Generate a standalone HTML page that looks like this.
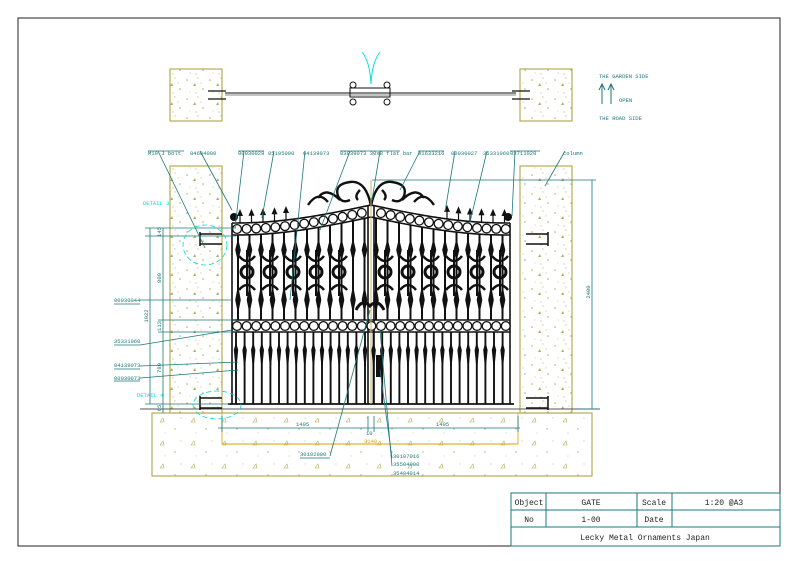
<!DOCTYPE html>
<html><head><meta charset="utf-8">
<style>
html,body{margin:0;padding:0;background:#fff;}
svg{display:block;}
text{font-family:"Liberation Mono",monospace;}
</style></head>
<body>
<svg id="s" width="794" height="561" viewBox="0 0 794 561" xmlns="http://www.w3.org/2000/svg">
<defs>
<pattern id="sand" width="23" height="19" patternUnits="userSpaceOnUse">
<rect width="23" height="19" fill="#fff"/>
<circle cx="3" cy="4" r="0.8" fill="#b5ad55"/><circle cx="14" cy="2" r="0.6" fill="#c2ba66"/>
<path d="M9 10 l2 -3 l1 3z" fill="#b5ad55"/><circle cx="19" cy="13" r="0.8" fill="#b5ad55"/>
<circle cx="6" cy="16" r="0.5" fill="#c2ba66"/><circle cx="17" cy="7" r="0.5" fill="#b5ad55"/>
<circle cx="12" cy="17" r="0.6" fill="#c2ba66"/>
</pattern>
<pattern id="sand2" width="31" height="23" patternUnits="userSpaceOnUse">
<rect width="31" height="23" fill="#fff"/>
<path d="M5 8 l3 -4 l1 4z" fill="none" stroke="#b5ad55" stroke-width="0.6"/>
<circle cx="20" cy="15" r="0.7" fill="#b5ad55"/><circle cx="26" cy="4" r="0.5" fill="#b5ad55"/>
<circle cx="10" cy="19" r="0.5" fill="#c2ba66"/>
</pattern>
</defs>
<rect x="18" y="18" width="762" height="528" fill="none" stroke="#222" stroke-width="1"/>
<g stroke="#1e7878" fill="none" stroke-width="1">
<rect x="511" y="493" width="269" height="53"/>
<line x1="511" y1="510" x2="780" y2="510"/><line x1="511" y1="527" x2="780" y2="527"/>
<line x1="546" y1="493" x2="546" y2="527"/><line x1="637" y1="493" x2="637" y2="527"/><line x1="672" y1="493" x2="672" y2="527"/>
</g>
<g font-size="8" fill="#222" text-anchor="middle">
<text x="529" y="505">Object</text><text x="591" y="505">GATE</text><text x="654" y="505">Scale</text><text x="724" y="505">1:20 @A3</text>
<text x="529" y="522">No</text><text x="591" y="522">1-00</text><text x="654" y="522">Date</text>
<text x="645" y="540">Lecky Metal Ornaments Japan</text>
</g>
<rect x="170" y="69" width="52" height="52" fill="url(#sand)" stroke="#b5ad55" stroke-width="1.2"/>
<rect x="520" y="69" width="52" height="52" fill="url(#sand)" stroke="#b5ad55" stroke-width="1.2"/>
<g stroke="#111" fill="none">
<line x1="225" y1="93" x2="516" y2="93" stroke-width="1"/><line x1="225" y1="95" x2="516" y2="95" stroke-width="0.6"/>
<path d="M208 91h18M208 99h18M512 91h18M512 99h18" stroke-width="1.2"/>
<rect x="350" y="88" width="40" height="9" stroke-width="1"/>
<circle cx="353" cy="85" r="3"/><circle cx="387" cy="85" r="3"/><circle cx="353" cy="102" r="3"/><circle cx="387" cy="102" r="3"/>
</g>
<path d="M371 84 Q370 62 362 52 M371 84 Q372 62 380 52" stroke="#00e0e0" fill="none"/>
<g fill="#1e7878" font-size="5.5">
<text x="599" y="78">THE GARDEN SIDE</text><text x="619" y="102">OPEN</text><text x="599" y="120">THE ROAD SIDE</text>
</g>
<path d="M602 104V84M599 90l3-6 3 6M611 104V84M608 90l3-6 3 6" stroke="#1e7878" fill="none"/>
<rect x="152" y="413" width="440" height="63" fill="url(#sand2)" stroke="#b5ad55" stroke-width="1.2"/>
<rect x="170" y="166" width="52" height="247" fill="url(#sand)" stroke="#b5ad55" stroke-width="1.2"/>
<rect x="520" y="166" width="52" height="247" fill="url(#sand)" stroke="#b5ad55" stroke-width="1.2"/>
<line x1="140" y1="409" x2="600" y2="409" stroke="#555" stroke-width="1"/>
<line x1="222" y1="444" x2="518" y2="444" stroke="#e0b030" stroke-width="1.2"/>
<line x1="222" y1="413" x2="222" y2="444" stroke="#e0b030"/>
<line x1="518" y1="413" x2="518" y2="444" stroke="#e0b030"/>
<g id="gate"></g>
<g id="dims" stroke="#1e7878" fill="none" stroke-width="0.8"></g>
<g fill="#1e7878" font-size="5.5" id="lbl">
<text x="148" y="155">M10 J bolt</text><text x="190" y="155">84604000</text>
<text x="238" y="155">00030029</text><text x="268" y="155">05105000</text><text x="303" y="155">04139073</text>
<text x="340" y="155">03839073 30x8 flat bar</text><text x="418" y="155">01633216</text><text x="451" y="155">00030027</text>
<text x="483" y="155">35331060</text><text x="510" y="155">03711020</text><text x="563" y="155">column</text>
<text x="114" y="302">00030044</text><text x="114" y="343">35331060</text><text x="114" y="367">04139073</text><text x="114" y="380">00030073</text>
<text x="300" y="456">30102000</text><text x="393" y="458">30107016</text><text x="393" y="466">35504000</text><text x="393" y="475">35404014</text>
<text x="296" y="426">1495</text><text x="436" y="426">1495</text><text x="366" y="435">10</text>
<text x="364" y="443" fill="#e0a020">3140</text>
</g>
<g fill="#00d8d8" font-size="5.5"><text x="143" y="205">DETAIL 3</text><text x="137" y="397">DETAIL 4</text></g>
<ellipse cx="205" cy="245" rx="22" ry="20" fill="none" stroke="#00d8d8" stroke-dasharray="5 3" stroke-width="0.8"/>
<ellipse cx="217" cy="405" rx="24" ry="14" fill="none" stroke="#00d8d8" stroke-dasharray="5 3" stroke-width="0.8"/>
</svg>
<script>
var NS="http://www.w3.org/2000/svg";
function el(p,t,a){var e=document.createElementNS(NS,t);for(var k in a)e.setAttribute(k,a[k]);p.appendChild(e);return e;}
var g=document.getElementById('gate'),d=document.getElementById('dims');
function band(x){var c=Math.abs(x-371);var t=Math.min(c/135,1);return 211+18*Math.sin(t*Math.PI/2);}
[232,368,374,510].forEach(function(x){el(g,'line',{x1:x,y1:band(x)-6,x2:x,y2:404,stroke:'#111','stroke-width':1.6});});
el(g,'line',{x1:228,y1:404,x2:514,y2:404,stroke:'#111','stroke-width':1.8});
var p1='',p2='';
for(var x=232;x<=510;x+=2){p1+=(x==232?'M':'L')+x+' '+(band(x)-6);p2+=(x==232?'M':'L')+x+' '+(band(x)+6);}
el(g,'path',{d:p1,stroke:'#111',fill:'none','stroke-width':1.6});
el(g,'path',{d:p2,stroke:'#111',fill:'none','stroke-width':1.6});
for(var x=237;x<=506;x+=9.6){if(Math.abs(x-371)<4)continue;el(g,'circle',{cx:x,cy:band(x),r:4.4,fill:'#fff',stroke:'#111','stroke-width':1.3});}
el(g,'line',{x1:232,y1:320,x2:510,y2:320,stroke:'#111','stroke-width':1.6});
el(g,'line',{x1:232,y1:332,x2:510,y2:332,stroke:'#111','stroke-width':1.6});
for(var x=237;x<=506;x+=9.6){el(g,'circle',{cx:x,cy:326,r:4.4,fill:'#fff',stroke:'#111','stroke-width':1.3});}
for(var x=238;x<=506;x+=11.5){if(Math.abs(x-371)<5)continue;el(g,'line',{x1:x,y1:band(x)+6,x2:x,y2:320,stroke:'#111','stroke-width':2});
el(g,'path',{d:'M'+(x-2.8)+' 250L'+x+' 238L'+(x+2.8)+' 250L'+x+' 262Z',fill:'#111'});
el(g,'path',{d:'M'+(x-2.8)+' 300L'+x+' 285L'+(x+2.8)+' 300L'+x+' 314Z',fill:'#111'});}
for(var x=247;x<=500;x+=23){if(Math.abs(x-371)<10)continue;
el(g,'circle',{cx:x,cy:272,r:6,fill:'none',stroke:'#111','stroke-width':3});
el(g,'path',{d:'M'+(x-8)+' 256Q'+x+' 266 '+(x+8)+' 256M'+(x-8)+' 290Q'+x+' 280 '+(x+8)+' 290',stroke:'#111',fill:'none','stroke-width':2.5});
el(g,'line',{x1:x,y1:250,x2:x,y2:296,stroke:'#111','stroke-width':2});}
for(var x=236;x<=508;x+=8.6){el(g,'line',{x1:x,y1:332,x2:x,y2:404,stroke:'#111','stroke-width':1.9});
el(g,'path',{d:'M'+(x-2.2)+' 350L'+x+' 342L'+(x+2.2)+' 350L'+x+' 372Z',fill:'#111'});}
for(var x=240;x<=505;x+=11.5){var y=band(x)-6;if(Math.abs(x-371)<75)continue;
el(g,'line',{x1:x,y1:y,x2:x,y2:y-10,stroke:'#111','stroke-width':1.2});
el(g,'path',{d:'M'+(x-3)+' '+(y-7)+'L'+x+' '+(y-14)+'L'+(x+3)+' '+(y-7)+'Z',fill:'#111'});}
el(g,'circle',{cx:234,cy:217,r:4,fill:'#111'});el(g,'circle',{cx:508,cy:217,r:4,fill:'#111'});
var sc='M371 206 Q366 180 350 182 Q334 184 338 196 Q342 204 350 200 M371 206 Q376 180 392 182 Q408 184 404 196 Q400 204 392 200'+
' M340 200 Q326 186 318 198 M402 200 Q416 186 424 198 M328 202 Q318 190 308 205 M414 202 Q424 190 434 205 M360 190 Q354 196 358 200 M382 190 Q388 196 384 200';
el(g,'path',{d:sc,stroke:'#111',fill:'none','stroke-width':2.4});
el(g,'line',{x1:371,y1:180,x2:371,y2:404,stroke:'#c8b860','stroke-width':1});
el(g,'path',{d:'M356 310q6-12 14-4q8-8 14 4',stroke:'#111',fill:'none','stroke-width':3});
el(g,'rect',{x:376,y:355,width:6,height:22,fill:'#111'});
[[200,240],[200,404],[526,240],[526,404]].forEach(function(h){el(g,'path',{d:'M'+h[0]+' '+(h[1]-6)+'h22M'+h[0]+' '+(h[1]+4)+'h22M'+(h[0]<300?h[0]:h[0]+22)+' '+(h[1]-8)+'v14',stroke:'#111',fill:'none','stroke-width':1.5});});
function L(a,b,c,e){el(d,'line',{x1:a,y1:b,x2:c,y2:e});}
L(150,228,150,404);L(163,228,163,413);L(145,228,236,228);L(145,236,236,236);L(158,320,236,320);L(158,332,236,332);L(145,404,230,404);
L(592,180,592,409);L(372,180,596,180);L(580,409,600,409);
L(218,428,520,428);L(222,416,222,432);L(518,416,518,432);L(368,416,368,432);L(374,416,374,432);
var ld=[[158,151,205,248],[200,151,232,210],[244,151,235,228],[274,151,262,218],[305,151,290,300],[350,151,320,230],[380,151,372,200],[420,151,400,190],[455,151,445,212],[487,151,470,222],[515,151,512,216],[565,151,545,186],
[140,300,232,300],[140,345,232,330],[140,366,238,362],[140,378,238,370],[330,456,370,310],[392,458,380,370],[392,466,380,330]];
ld.forEach(function(l){L(l[0],l[1],l[2],l[3]);});
L(148,151,184,151);L(238,151,264,151);L(340,151,400,151);L(418,151,444,151);L(510,151,540,151);
L(114,304,140,304);L(114,345,140,345);L(114,369,140,369);L(114,381,140,381);L(300,458,330,458);
var t=[['1922',148,316],['800',161,278],['145',161,232],['113',161,326],['780',161,368],['65',161,408],['2400',590,292]];
t.forEach(function(a){var e=el(document.getElementById('lbl'),'text',{x:a[1],y:a[2],transform:'rotate(-90 '+a[1]+' '+a[2]+')','text-anchor':'middle'});e.textContent=a[0];});
</script>
</body></html>
